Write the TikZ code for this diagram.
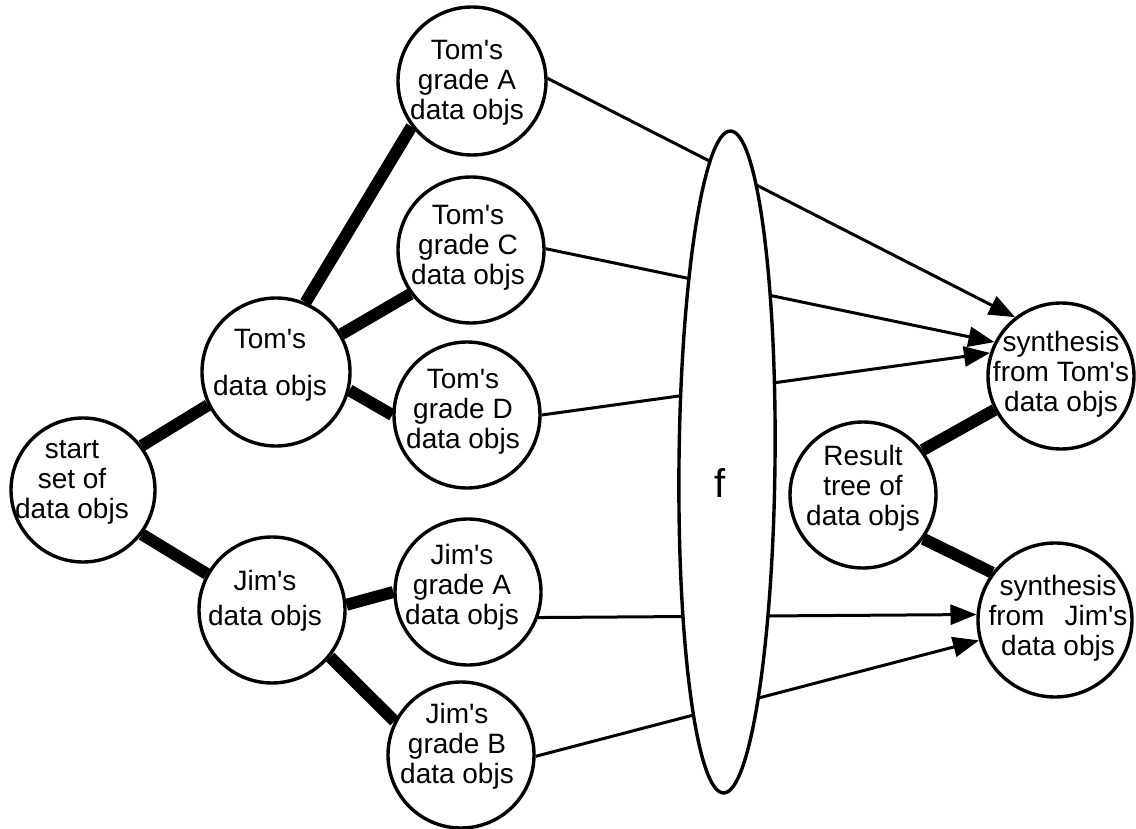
\documentclass[tikz,border=0pt]{standalone}
\usepackage{fontspec}
\setmainfont{Liberation Sans}
\usetikzlibrary{shapes.geometric,arrows.meta}
\pgfdeclarelayer{behind}
\pgfsetlayers{behind,main}
% straight typewriter apostrophe
\newcommand\aps{\textquotesingle}

\begin{document}
\begin{tikzpicture}[x=1pt,y=-1pt,
  blob/.style={circle,draw,line width=3.4pt,fill=white,minimum size=#1,inner sep=0pt},
  blob/.default=146pt,
  txt/.style={align=center,inner sep=0pt,font=\fontsize{28}{30}\selectfont},
  bar/.style={line width=12pt,line cap=butt},
  feed/.style={line width=3pt,-{Triangle[length=26pt,width=20pt]}},
  lens/.style={ellipse,draw,line width=3.4pt,fill=white,minimum width=96pt,
    minimum height=662pt,inner sep=0pt,rotate=-0.6}]

\useasboundingbox (0,0) rectangle (1136,829);

% the mapping f
\node[lens] (f) at (727,462) {};
\node[font=\fontsize{40}{40}\selectfont,inner sep=0pt] (f-t) at (720,483) {f};

% decomposition tree
\node[blob=144pt] (start) at (83,490) {};
\node[txt] (start-t) at (72,482) {start\\set of\\data objs};

\node[blob=148pt] (tomData) at (276,372) {};
\node[txt] (tomData-t) at (270,365) {Tom\aps s\\[17pt]data objs};

\node[blob] (jimData) at (272,610) {};
\node[txt] (jimData-t) at (265,601) {Jim\aps s\\[5pt]data objs};

\node[blob=148pt] (tomA) at (472,81) {};
\node[txt] (tomA-t) at (467,83) {Tom\aps s\\grade A\\data objs};

\node[blob] (tomC) at (471,250) {};
\node[txt] (tomC-t) at (468,248) {Tom\aps s\\grade C\\data objs};

\node[blob] (tomD) at (467,415) {};
\node[txt] (tomD-t) at (463,412) {Tom\aps s\\grade D\\data objs};

\node[blob] (jimA) at (468,592) {};
\node[txt] (jimA-t) at (462,587) {Jim\aps s\\grade A\\data objs};

\node[blob] (jimB) at (461,755) {};
\node[txt] (jimB-t) at (457,746) {Jim\aps s\\grade B\\data objs};

% synthesis tree
\node[blob] (synT) at (1061,376) {};
\node[txt] (synT-t) at (1061,374) {synthesis\\from Tom\aps s\\data objs};

\node[blob] (result) at (863,495) {};
\node[txt] (result-t) at (863,488) {Result\\tree of\\data objs};

\node[blob=154pt] (synJ) at (1055,620) {};
\node[txt] (synJ-t) at (1058,618) {synthesis\\from\hspace{20pt}Jim\aps s\\data objs};

% thick tree edges
\draw[bar] (start.37) -- (tomData.206);
\draw[bar] (start.-37) -- (jimData.151);
\draw[bar] (tomData.67) -- (tomA.217);
\draw[bar] (tomData.30) -- (tomC.216);
\draw[bar] (tomData.-14) -- (tomD.180);
\draw[bar] (jimData.4) -- (jimA.180);
\draw[bar] (jimData.-39) -- (jimB.153);
\draw[bar] (result.37) -- (synT.207);
\draw[bar] (result.-36) -- (synJ.143);

% f applied to each leaf, passing behind the lens
\begin{pgfonlayer}{behind}
\draw[feed] (tomA.2) -- (synT.128);
\draw[feed] (tomC.1) -- (synT.153);
\draw[feed] (tomD.0) -- (synT.162);
\draw[feed] (jimA.-20) -- (synJ.176);
\draw[feed] (jimB.-1) -- (synJ.195);
\end{pgfonlayer}
\end{tikzpicture}
\end{document}
